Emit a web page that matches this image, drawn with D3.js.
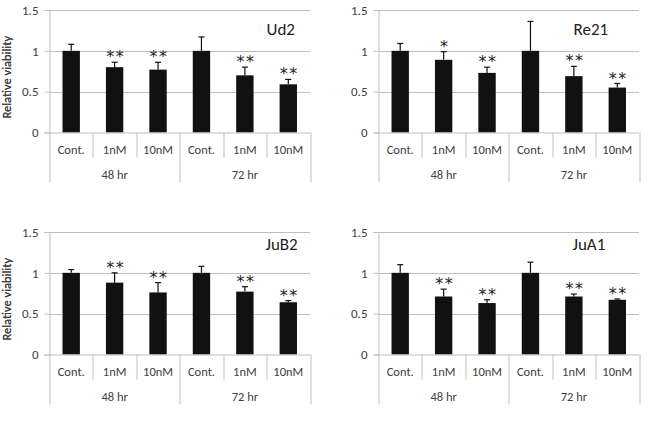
<!DOCTYPE html>
<html>
<head>
<meta charset="utf-8">
<script src="https://cdn.jsdelivr.net/npm/d3@7"></script>
<style>
  body { margin: 0; background: #fff; }
  svg { display: block; }
  text { font-family: Carlito, Lato, "Open Sans", sans-serif; }
</style>
</head>
<body>
<div id="chart"></div>
<script>
// chart size
const width = 649;
const height = 422;

// data
const doses = ["Cont.", "1nM", "10nM", "Cont.", "1nM", "10nM"];
const times = ["48 hr", "72 hr"];
const yTicks = [0, 0.5, 1, 1.5];
const cellLines = ["Ud2", "Re21", "JuB2", "JuA1"];

const ud2Mean = [1.0, 0.80, 0.77, 1.0, 0.70, 0.59];
const ud2Err  = [0.08, 0.06, 0.09, 0.17, 0.10, 0.06];
const ud2Star = ["", "**", "**", "", "**", "**"];

const re21Mean = [1.0, 0.89, 0.73, 1.0, 0.69, 0.55];
const re21Err  = [0.09, 0.10, 0.07, 0.36, 0.12, 0.05];
const re21Star = ["", "*", "**", "", "**", "**"];

const jub2Mean = [1.0, 0.88, 0.76, 1.0, 0.77, 0.64];
const jub2Err  = [0.04, 0.12, 0.12, 0.08, 0.06, 0.02];
const jub2Star = ["", "**", "**", "", "**", "**"];

const jua1Mean = [1.0, 0.71, 0.63, 1.0, 0.71, 0.67];
const jua1Err  = [0.10, 0.09, 0.04, 0.13, 0.03, 0.01];
const jua1Star = ["", "**", "**", "", "**", "**"];

const means = [ud2Mean, re21Mean, jub2Mean, jua1Mean];
const errs = [ud2Err, re21Err, jub2Err, jua1Err];
const stars = [ud2Star, re21Star, jub2Star, jua1Star];

// where each small panel sits
const panels = [
  {left: 49.5, top: 10, titleX: 217, titleY: 25},
  {left: 378.5, top: 10, titleX: 195, titleY: 25},
  {left: 49.5, top: 232, titleX: 216, titleY: 18},
  {left: 378.5, top: 232, titleX: 194, titleY: 18}
];
const plotW = 260.5;
const plotH = 122.5;

const gray = "#bfbfbf";
const textCol = "#404040";

const svg = d3.select("#chart")
  .append("svg")
  .attr("width", width)
  .attr("height", height);

cellLines.forEach((name, p) => {
  const pos = panels[p];
  const g = svg.append("g")
    .attr("transform", `translate(${pos.left},${pos.top})`);

  const x = d3.scaleBand()
    .domain(d3.range(doses.length))
    .range([0, plotW])
    .paddingInner(0.6)
    .paddingOuter(0.3);

  const y = d3.scaleLinear()
    .domain([0, 1.5])
    .range([plotH, 0]);

  // gridlines
  g.selectAll(".grid")
    .data(yTicks.filter(t => t > 0))
    .enter()
    .append("line")
      .attr("x1", 0)
      .attr("x2", plotW)
      .attr("y1", d => Math.round(y(d)) + 0.5)
      .attr("y2", d => Math.round(y(d)) + 0.5)
      .attr("stroke", gray);

  // y axis
  const yAxis = g.append("g")
    .call(d3.axisLeft(y).tickValues(yTicks).tickSize(5).tickPadding(6)
      .tickFormat(d => d === 0 ? "0" : d === 1 ? "1" : d3.format(".1f")(d)));
  yAxis.selectAll("line").attr("stroke", gray);
  yAxis.select(".domain").attr("stroke", gray);
  yAxis.selectAll("text")
    .attr("fill", textCol)
    .attr("font-size", "13px")
    .style("font-family", "Carlito, Lato, 'Open Sans', sans-serif");

  // y label
  g.append("text")
    .attr("transform", `translate(${-pos.left + 11},${plotH / 2 + 6}) rotate(-90)`)
    .attr("text-anchor", "middle")
    .attr("font-size", "12.5px")
    .attr("fill", textCol)
    .text("Relative viability");

  // bars
  g.selectAll(".bar")
    .data(means[p])
    .enter()
    .append("rect")
      .attr("class", "bar")
      .attr("x", (d, i) => x(i))
      .attr("y", d => y(d))
      .attr("width", x.bandwidth())
      .attr("height", d => plotH - y(d))
      .attr("fill", "#111");

  // error bars (upper only)
  const eb = g.selectAll(".err")
    .data(means[p])
    .enter()
    .append("g")
      .attr("class", "err");
  eb.append("line")
    .attr("x1", (d, i) => x(i) + x.bandwidth() / 2)
    .attr("x2", (d, i) => x(i) + x.bandwidth() / 2)
    .attr("y1", d => y(d))
    .attr("y2", (d, i) => y(d + errs[p][i]))
    .attr("stroke", "#111")
    .attr("stroke-width", 1.2);
  eb.append("line")
    .attr("x1", (d, i) => x(i) + x.bandwidth() / 2 - 3)
    .attr("x2", (d, i) => x(i) + x.bandwidth() / 2 + 3)
    .attr("y1", (d, i) => y(d + errs[p][i]))
    .attr("y2", (d, i) => y(d + errs[p][i]))
    .attr("stroke", "#111")
    .attr("stroke-width", 1.2);

  // significance stars
  g.selectAll(".star")
    .data(stars[p])
    .enter()
    .append("text")
      .attr("x", (d, i) => x(i) + x.bandwidth() / 2 + 1)
      .attr("y", (d, i) => y(means[p][i] + errs[p][i]))
      .attr("text-anchor", "middle")
      .attr("font-size", "16px")
      .attr("letter-spacing", "1.5px")
      .attr("fill", "#222")
      .style("font-family", "'DejaVu Sans', sans-serif")
      .text(d => d);

  // x axis line
  g.append("line")
    .attr("x1", 0).attr("x2", plotW)
    .attr("y1", plotH + 0.5).attr("y2", plotH + 0.5)
    .attr("stroke", gray);

  // category separators
  const step = x.step();
  g.selectAll(".sep")
    .data(d3.range(doses.length + 1))
    .enter()
    .append("line")
      .attr("x1", i => Math.round(i * step) + 0.5)
      .attr("x2", i => Math.round(i * step) + 0.5)
      .attr("y1", plotH)
      .attr("y2", i => i % 3 === 0 ? plotH + 50 : plotH + 25)
      .attr("stroke", gray);

  // dose labels
  g.selectAll(".dose")
    .data(doses)
    .enter()
    .append("text")
      .attr("x", (d, i) => x(i) + x.bandwidth() / 2)
      .attr("y", plotH + 21)
      .attr("text-anchor", "middle")
      .attr("font-size", "12.5px")
      .attr("fill", textCol)
      .text(d => d);

  // time labels
  g.selectAll(".time")
    .data(times)
    .enter()
    .append("text")
      .attr("x", (d, i) => (i * 3 + 1.5) * step)
      .attr("y", plotH + 46)
      .attr("text-anchor", "middle")
      .attr("font-size", "12.5px")
      .attr("fill", textCol)
      .text(d => d);

  // panel title
  g.append("text")
    .attr("x", pos.titleX)
    .attr("y", pos.titleY)
    .attr("font-size", "17px")
    .attr("fill", "#222")
    .text(name);
});
</script>
</body>
</html>
